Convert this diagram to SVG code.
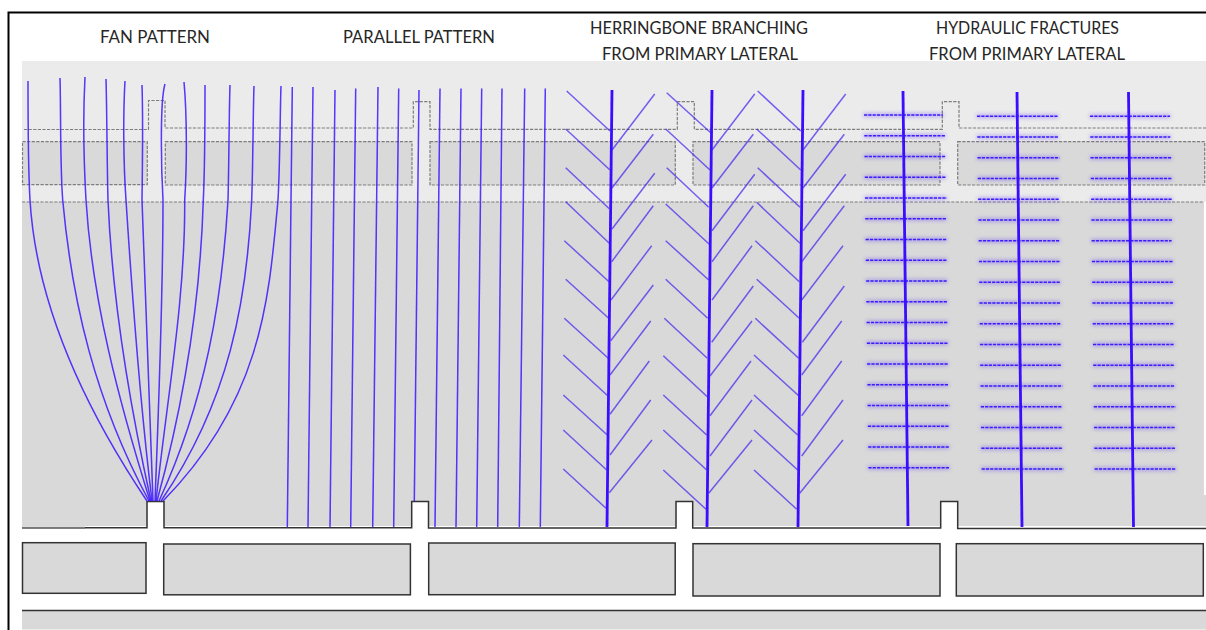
<svg xmlns="http://www.w3.org/2000/svg" width="1206" height="630" viewBox="0 0 1206 630">
<defs>
<filter id="soft" x="-5%" y="-5%" width="110%" height="110%"><feGaussianBlur stdDeviation="0.4"/></filter>
<filter id="glow" x="-10%" y="-10%" width="120%" height="120%"><feGaussianBlur in="SourceGraphic" stdDeviation="2.2" result="b"/><feGaussianBlur in="SourceGraphic" stdDeviation="0.35" result="s"/><feMerge><feMergeNode in="b"/><feMergeNode in="s"/></feMerge></filter>
</defs>
<style>
.ttl{font-family:Lato,"Open Sans",sans-serif;font-size:16.5px;fill:#262626}
.dash{fill:none;stroke:#7d7d7d;stroke-width:1.2;stroke-dasharray:3.2 1.4}
.dashr{fill:#d9d9d9;stroke:#7d7d7d;stroke-width:1.2;stroke-dasharray:3.2 1.4}
.solid{fill:none;stroke:#333;stroke-width:1.5}
.slab{fill:#d9d9d9;stroke:#333;stroke-width:1.5}
.thin{fill:none;stroke:#3a14ff;stroke-width:1.5;stroke-opacity:.85}
.branch{fill:none;stroke:#3a1cf0;stroke-width:1.5;stroke-opacity:.68}
.main{fill:none;stroke:#3a0cff;stroke-width:2.8}
.frac{fill:none;stroke:#3a1cff;stroke-width:1.5;stroke-dasharray:3.2 1.1}
</style>
<rect width="1206" height="630" fill="#fff"/>
<path d="M8.500 630V12.500H1206" fill="none" stroke="#000" stroke-width="2"/>
<g id="titles">
<text class="ttl" x="100" y="42.500" textLength="110" lengthAdjust="spacingAndGlyphs">FAN PATTERN</text>
<text class="ttl" x="343" y="42.500" textLength="152" lengthAdjust="spacingAndGlyphs">PARALLEL PATTERN</text>
<text class="ttl" x="590" y="34" textLength="218" lengthAdjust="spacingAndGlyphs">HERRINGBONE BRANCHING</text>
<text class="ttl" x="602" y="60" textLength="196" lengthAdjust="spacingAndGlyphs">FROM PRIMARY LATERAL</text>
<text class="ttl" x="936" y="34" textLength="183" lengthAdjust="spacingAndGlyphs">HYDRAULIC FRACTURES</text>
<text class="ttl" x="929" y="60" textLength="196" lengthAdjust="spacingAndGlyphs">FROM PRIMARY LATERAL</text>
</g>
<g id="ground">
<rect x="22" y="61" width="1184" height="141" fill="#ebebeb"/>
<rect x="22" y="202" width="1182" height="324" fill="#d9d9d9"/>
<rect x="1204" y="495" width="2" height="31" fill="#d9d9d9"/>
<rect x="22" y="610.500" width="1184" height="19" fill="#d9d9d9"/>
</g>
<g id="upper-section" filter="url(#soft)">
<rect class="dashr" x="22.500" y="141.700" width="124.800" height="43"/>
<rect class="dashr" x="165.300" y="141.700" width="246.700" height="43.300"/>
<rect class="dashr" x="430" y="141.700" width="245.300" height="43.300"/>
<rect class="dashr" x="693" y="141.700" width="247" height="43.300"/>
<rect class="dashr" x="957.700" y="141.700" width="247" height="43.300"/>
<path class="dash" d="M24 129.500H148.500V100.500H165V128H413.300V101.700H430V129.300H677.300V101.700H694.300V129.300H942.300V101.700H959V128H1206"/>
<path class="dash" d="M22 202H1204"/>
</g>
<g id="lower-section">
<rect x="147.500" y="502" width="16" height="26" fill="#fff"/>
<rect x="412" y="502" width="16.500" height="26" fill="#fff"/>
<rect x="676.500" y="502" width="16" height="26" fill="#fff"/>
<rect x="941" y="502" width="16.500" height="26" fill="#fff"/>
<path class="solid" d="M22 527.700H147V501.500H164V527.700H411.700V501.500H428.500V528H676V501.500H692.700V528H940.700V501.500H957.700V528.500H1206"/>
<path d="M22 527.700H85" fill="none" stroke="#777" stroke-width="2"/>
<rect class="slab" x="22.500" y="542.700" width="123.500" height="50.600"/>
<rect class="slab" x="163.700" y="544" width="246.700" height="50.800"/>
<rect class="slab" x="428.700" y="543" width="246.500" height="51.700"/>
<rect class="slab" x="693" y="543.700" width="247" height="52.300"/>
<rect class="slab" x="956.300" y="543.700" width="247" height="52.300"/>
<path class="solid" d="M22 610.500H1206"/>
</g>
<g id="connectors" filter="url(#soft)">
<g id="fan-pattern" class="thin">
<path d="M28 81C28 115 28 165 30 200C35.900 300 79.300 400 147 501"/>
<path d="M60 78C61 115 60 165 62.700 200C71.800 300 94.500 400 149 501"/>
<path d="M85 77C83 115 84 165 86 200C92.100 300 118.500 400 150 501"/>
<path d="M106 79C107 115 107 165 108 200C112.200 300 128.600 400 151 501"/>
<path d="M125 81C123 115 123.500 165 126 200C132.400 300 139.600 400 152 501"/>
<path d="M142 85C143 115 142.500 165 142 200C145 300 149.800 400 153 501"/>
<path d="M165 84C160 100 161 165 163 200C163 300 159 400 155 501"/>
<path d="M184 82C187 115 187 165 184.700 200C185.400 300 166.700 400 156 501"/>
<path d="M205 85C205 115 205 165 203.300 200C200.300 300 184.700 400 157 501"/>
<path d="M230 85C229 115 229 165 228 200C222.100 300 205.800 400 159 501"/>
<path d="M254 86C253 115 253 165 251.700 200C246.800 300 230 400 161 501"/>
<path d="M281 86C280 115 280 165 278 200C268.900 300 262 400 163 501"/>
</g>
<g id="parallel-pattern" class="thin">
<path d="M292.300 87L287.300 527"/>
<path d="M313 87L308 527"/>
<path d="M335 90L330 527"/>
<path d="M355.700 88.500L350.700 527"/>
<path d="M378 87L372.700 527"/>
<path d="M398.700 88.500L393.700 527"/>
<path d="M419 90L414.300 501"/>
<path d="M440 88.500L435 527"/>
<path d="M461 88.500L456 527"/>
<path d="M481.700 88.500L476.700 527"/>
<path d="M502 88.500L497.700 527"/>
<path d="M524.700 88.500L519.300 527"/>
<path d="M545.300 88.500L540.300 527"/>
</g>
<g id="herringbone-1">
<path class="main" d="M612 90L607 527"/>
<path class="branch" d="M566.700 91L610 131M565.700 129L610 170M565.700 167.700L609.300 208.700M565.700 201.700L609.300 243.300M564.300 240.700L609 281.700M565.700 279.300L608.700 318.300M564.300 318.300L608.300 358.300M563.300 355L607.700 395.700M563.300 395L607.300 435M563.300 430L606.700 470M563.300 469L606 508.300"/>
<path class="branch" d="M612 150L654.700 94M612 188L653.300 134.300M612 229L654.700 173.300M611.700 261.700L653.300 205.700M611 300L651.700 245.700M610.700 340.700L653.300 285M610 375L650.700 321M610 414.300L649.300 361M610 455L650.700 400M609.300 492.700L652 440"/>
</g>
<g id="herringbone-2">
<path class="main" d="M712 90L707 527"/>
<path class="branch" d="M666.700 92.700L710.700 132.700M665.700 129L710 170M666.700 167.700L708.700 207.300M665.700 204L709.300 244.300M665.700 240.700L708.700 280M665.700 279.300L707.700 318.300M664.300 318.300L707.300 358.300M663.300 355.700L707.300 396.700M663.300 395L706.700 435M663.300 430L706.700 470M663.300 470L706 509.300"/>
<path class="branch" d="M712 150L754.700 94M712 188L753.300 134.300M712 230.700L754.700 174.300M712 261.700L753.300 205.700M712 300L752 245.700M711.700 342.300L753.300 286M710 376L752 321M710 415.700L751 361M710 456L752 400M708.700 493.300L752 440"/>
</g>
<g id="herringbone-3">
<path class="main" d="M803 90L798 527"/>
<path class="branch" d="M757.700 91L800.700 131M756.700 129L800.700 170M757.700 167.700L800 207.300M756.700 202.300L800 243.300M755.300 240.700L799.300 281.700M756.700 279.300L799.300 318.300M755.300 318.300L798.700 358.300M754 355L798.700 395.700M754 395L797.700 435M754 430L797.700 470M754 470L796.700 509.300"/>
<path class="branch" d="M803 150L845.700 94M803 188L844.300 134.300M803 230.700L845.700 174.300M801.700 261.700L844.300 205.700M801.700 300L843 245.700M802.300 342.300L844.300 286M801.700 375L841.700 321M801.700 415.700L841.700 361M801.700 456L843 400M799.700 493.300L843 440"/>
</g>
</g>
<g id="hydraulic-fractures">
<path class="frac" filter="url(#glow)" d="M864 115h79M864.300 135.800h81M864.500 156.500h81M864.800 177.300h81M865 198h82M865.300 218.800h81M865.600 239.500h81M865.800 260.300h81M866.100 281h81M866.300 301.800h81M866.600 322.500h81M866.900 343.300h81M867.100 364h81M867.400 384.800h81M867.600 405.500h82M867.900 426.300h81M868.200 447h81.500M868.400 467.800h81.500"/>
<path class="frac" filter="url(#glow)" d="M977 116.300h81M977.300 137h81M977.500 157.800h82M977.800 178.600h81M978.100 199.300h81M978.400 220h81M978.600 240.800h81M978.900 261.600h81M979.200 282.300h81M979.400 303h81.500M979.700 323.800h81.500M980 344.600h81.500M980.200 365.300h81.500M980.500 386h82M980.800 406.800h81M981 427.600h81M981.300 448.300h81M981.600 469h82"/>
<path class="frac" filter="url(#glow)" d="M1090 116.300h80M1090.300 137h80M1090.500 157.800h81M1090.800 178.600h81M1091.100 199.300h81M1091.400 220h81M1091.600 240.800h80M1091.900 261.600h81M1092.200 282.300h81M1092.400 303h81M1092.700 323.800h81M1093 344.600h81M1093.200 365.300h81M1093.500 386h81M1093.800 406.800h82M1094 427.600h81M1094.300 448.300h81.500M1094.600 469h81"/>
<g filter="url(#soft)">
<path class="main" d="M903 91L908 526"/>
<path class="main" d="M1017 92L1022 527"/>
<path class="main" d="M1128.500 92L1133.500 527"/>
</g>
</g>
</svg>
